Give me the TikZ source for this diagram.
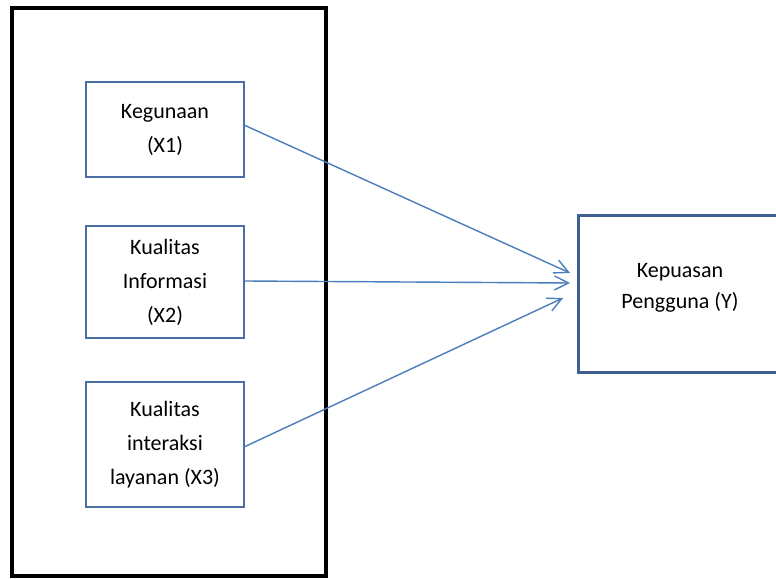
\documentclass[tikz,border=0pt]{standalone}
\usepackage{fontspec}
\setmainfont{Carlito}
\usetikzlibrary{positioning,arrows.meta}
\definecolor{boxblue}{HTML}{4A6FA5}
\definecolor{ydark}{HTML}{3E5F8F}
\definecolor{arrowblue}{HTML}{4A7EBB}

\begin{document}
\begin{tikzpicture}[x=1pt, y=1pt,
    varbox/.style={draw=boxblue, line width=1.5pt, outer sep=0pt, minimum width=158pt,
        align=center, font=\fontsize{22}{34}\selectfont},
    depbox/.style={draw=ydark, line width=3pt, outer sep=0pt, minimum width=204pt,
        minimum height=157pt, align=center, text depth=17pt, font=\fontsize{22}{30.5}\selectfont},
    link/.style={draw=arrowblue, line width=1.4pt, -{Straight Barb[length=14pt, width=14pt]}}]
        \useasboundingbox (0,0) rectangle (776,578);
        % NODES
        % -----------------
        \node[draw, line width=4pt, minimum width=314pt, minimum height=568pt] (frame) at (169,286) {};
        
        \node[varbox, minimum height=95pt] (x1) at (165,448.5) {Kegunaan\\(X1)};
        \node[varbox, minimum height=112pt, below=49pt of x1] (x2) {Kualitas\\Informasi\\(X2)};
        \node[varbox, minimum height=125pt, below=44pt of x2] (x3) {Kualitas\\interaksi\\layanan (X3)};
        
        \node[depbox] (y) at (680,283.5) {Kepuasan\\Pengguna (Y)};
        
        % EDGES
        % -----------------
        \draw[link] ([yshift=4.5pt]x1.east) -- ([xshift=-8pt, yshift=21.5pt]y.west);
        \draw[link] ([yshift=1pt]x2.east) -- ([xshift=-8pt, yshift=11.5pt]y.west);
        \draw[link] ([yshift=-2.5pt]x3.east) -- ([xshift=-15pt, yshift=-3.5pt]y.west);
  
    \end{tikzpicture}
\end{document}
